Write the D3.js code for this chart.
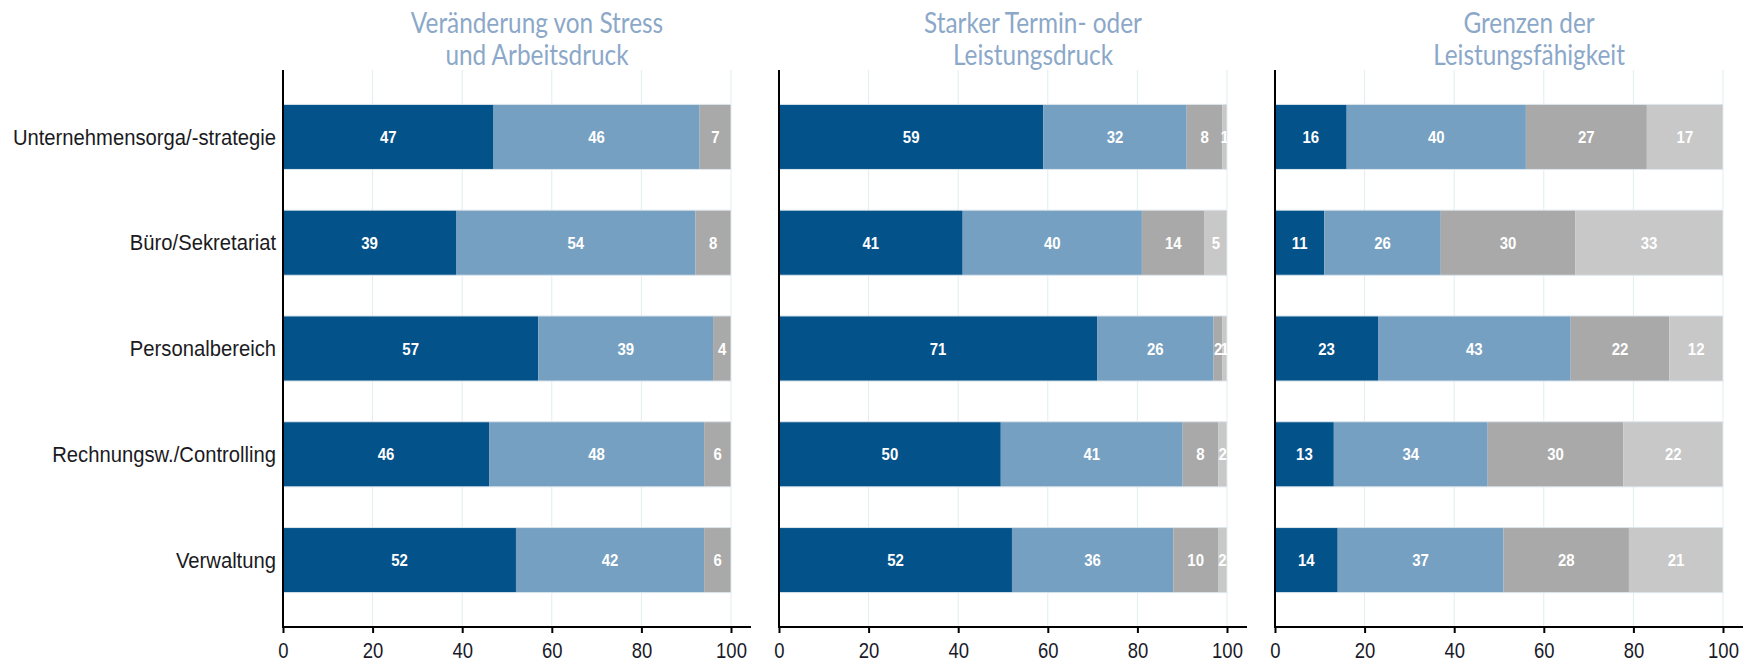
<!DOCTYPE html>
<html>
<head>
<meta charset="utf-8">
<script src="https://cdn.jsdelivr.net/npm/d3@7"></script>
<style>
  body { margin: 0; background: #fff; }
</style>
</head>
<body>
<svg id="chart"></svg>
<script>
var categories = ["Unternehmensorga/-strategie", "Büro/Sekretariat", "Personalbereich", "Rechnungsw./Controlling", "Verwaltung"];
var panelTitles = [["Veränderung von Stress", "und Arbeitsdruck"], ["Starker Termin- oder", "Leistungsdruck"], ["Grenzen der", "Leistungsfähigkeit"]];
// one row per category, segments left to right
var stressValues = [[47, 46, 7], [39, 54, 8], [57, 39, 4], [46, 48, 6], [52, 42, 6]];
var terminValues = [[59, 32, 8, 1], [41, 40, 14, 5], [71, 26, 2, 1], [50, 41, 8, 2], [52, 36, 10, 2]];
var grenzenValues = [[16, 40, 27, 17], [11, 26, 30, 33], [23, 43, 22, 12], [13, 34, 30, 22], [14, 37, 28, 21]];
var xTicks = [0, 20, 40, 60, 80, 100];
var segmentColors = ["#03528a", "#76a0c1", "#a9a9a9", "#c8c8c8"];

var width = 1754, height = 663;
var panelLeft = 283, panelStep = 496, plotW = 448, axisExtra = 20;
var plotTop = 70, plotBottom = 627;
var sansFont = "'Liberation Sans', Arial, sans-serif";

var svg = d3.select("#chart").attr("width", width).attr("height", height);

var y = d3.scaleBand()
    .domain(categories)
    .range([plotTop, plotBottom])
    .paddingInner(0.385)
    .paddingOuter(0.325);

// text squeezed horizontally, the original uses a condensed face
function squeezed(parent, x, yy, sx) {
    return parent.append("g")
        .attr("transform", "translate(" + x + "," + yy + ") scale(" + sx + ",1)")
        .append("text");
}

[stressValues, terminValues, grenzenValues].forEach(function(values, p) {
    var x0 = panelLeft + p * panelStep;
    var x = d3.scaleLinear().domain([0, 100]).range([x0, x0 + plotW]);
    var g = svg.append("g").attr("class", "panel");

    g.selectAll(".grid")
        .data(xTicks.slice(1))
        .enter().append("line")
        .attr("class", "grid")
        .attr("x1", function(d) { return x(d); })
        .attr("x2", function(d) { return x(d); })
        .attr("y1", plotTop)
        .attr("y2", plotBottom)
        .attr("stroke", "#e2edf1")
        .attr("stroke-width", 1);

    var clipId = "clip" + p;
    svg.append("clipPath").attr("id", clipId)
        .append("rect")
        .attr("x", x0).attr("y", plotTop)
        .attr("width", plotW).attr("height", plotBottom - plotTop);

    // rows are drawn as shares of their own total
    var segs = [];
    categories.forEach(function(c, i) {
        var v = values[i], total = d3.sum(v), acc = 0;
        v.forEach(function(d, k) {
            segs.push({cat: c, k: k, value: d, a: acc / total * 100, b: (acc + d) / total * 100});
            acc += d;
        });
    });

    var bars = g.append("g").attr("clip-path", "url(#" + clipId + ")");
    bars.selectAll(".seg")
        .data(segs)
        .enter().append("rect")
        .attr("class", "seg")
        .attr("x", function(d) { return x(d.a); })
        .attr("y", function(d) { return y(d.cat); })
        .attr("width", function(d) { return x(d.b) - x(d.a); })
        .attr("height", y.bandwidth())
        .attr("fill", function(d) { return segmentColors[d.k]; });

    bars.selectAll(".outline")
        .data(categories)
        .enter().append("rect")
        .attr("class", "outline")
        .attr("x", x(0)).attr("y", function(d) { return y(d); })
        .attr("width", x(100) - x(0)).attr("height", y.bandwidth())
        .attr("fill", "none")
        .attr("stroke", "#dce6ec")
        .attr("stroke-width", 1);

    segs.forEach(function(d) {
        squeezed(bars, x((d.a + d.b) / 2), y(d.cat) + y.bandwidth() / 2, 0.88)
            .attr("text-anchor", "middle")
            .attr("dy", "0.36em")
            .attr("font-family", sansFont)
            .attr("font-size", 17)
            .attr("font-weight", "bold")
            .attr("fill", "#fff")
            .text(d.value);
    });

    // axes
    g.append("line")
        .attr("x1", x0).attr("x2", x0)
        .attr("y1", plotTop).attr("y2", plotBottom)
        .attr("stroke", "#000").attr("stroke-width", 2);

    var ax = g.append("g")
        .attr("transform", "translate(0," + plotBottom + ")")
        .call(d3.axisBottom(x).tickValues(xTicks).tickSize(6).tickPadding(9));
    ax.select(".domain").remove();
    ax.selectAll(".tick line").attr("stroke", "#000").attr("stroke-width", 2);
    ax.selectAll(".tick text")
        .attr("font-family", sansFont)
        .attr("font-size", 22)
        .attr("fill", "#1a1a2a")
        .attr("transform", "scale(0.84,1)");
    g.append("line")
        .attr("x1", x0 - 1).attr("x2", x0 + plotW + axisExtra)
        .attr("y1", plotBottom).attr("y2", plotBottom)
        .attr("stroke", "#000").attr("stroke-width", 2);

    // title
    panelTitles[p].forEach(function(line, j) {
        squeezed(g, x0 + 254, 33 + j * 32, 0.87)
            .attr("text-anchor", "middle")
            .attr("font-family", "Lato, sans-serif")
            .attr("font-size", 28)
            .attr("fill", "#8ca8c9")
            .text(line);
    });

    if (p === 0) {
        categories.forEach(function(c) {
            squeezed(g, x0 - 7, y(c) + y.bandwidth() / 2, 0.92)
                .attr("text-anchor", "end")
                .attr("dy", "0.35em")
                .attr("font-family", sansFont)
                .attr("font-size", 22)
                .attr("fill", "#1a1a22")
                .text(c);
        });
    }
});
</script>
</body>
</html>
